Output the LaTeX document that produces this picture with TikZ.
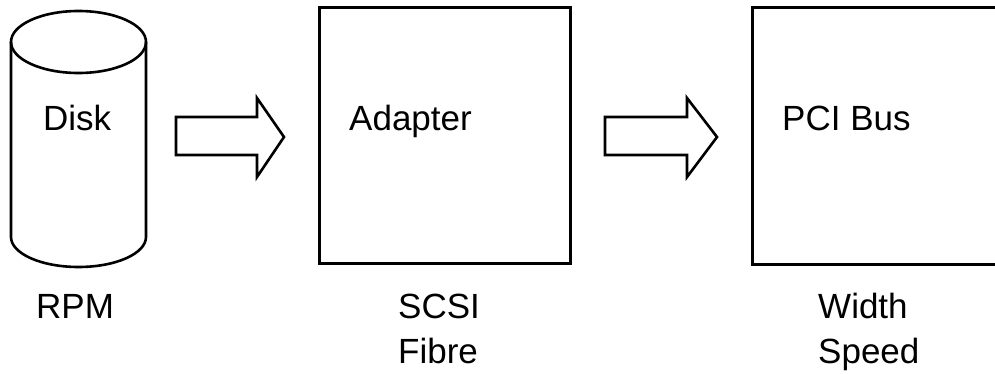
\documentclass[tikz,border=0pt]{standalone}
\usepackage{fontspec}
\setmainfont{Liberation Sans}
\begin{document}
\begin{tikzpicture}[x=1pt,y=1pt,
  boxst/.style={draw,line width=3pt,inner sep=0pt},
  shapeline/.style={line width=2.6pt,line join=miter},
  lbl/.style={anchor=base west,inner sep=0pt,font=\fontsize{35}{42}\selectfont}]
\clip (0,0) rectangle (995,373);
\fill[white] (0,0) rectangle (995,373);
% disk cylinder
\draw[shapeline] (78.5,331) ellipse[x radius=67.5,y radius=31];
\draw[shapeline] (11,331) -- (11,136) arc[start angle=180,end angle=360,x radius=67.5,y radius=30] -- (146,331);
% boxes
\node[boxst,minimum width=251pt,minimum height=255pt] (adapter) at (444.5,237.5) {};
\node[boxst,minimum width=258pt,minimum height=256pt] (pci) at (881,237) {};
% block arrows
\draw[shapeline] (176,256)--(257,256)--(257,275)--(284,236)--(257,196)--(257,218)--(176,218)--cycle;
\draw[shapeline] (605,256)--(687,256)--(687,275)--(717,236)--(687,196)--(687,218)--(605,218)--cycle;
% labels
\node[lbl] (disk) at (43,243) {Disk};
\node[lbl] (adaptertxt) at (349,243) {Adapter};
\node[lbl] (pcitxt) at (782,243) {PCI Bus};
\node[lbl] (rpm) at (36,55) {RPM};
\node[lbl] (scsi) at (398,55) {SCSI};
\node[lbl] (fibre) at (398,10) {Fibre};
\node[lbl] (width) at (818,55) {Width};
\node[lbl] (speed) at (818,10) {Speed};
\end{tikzpicture}
\end{document}
